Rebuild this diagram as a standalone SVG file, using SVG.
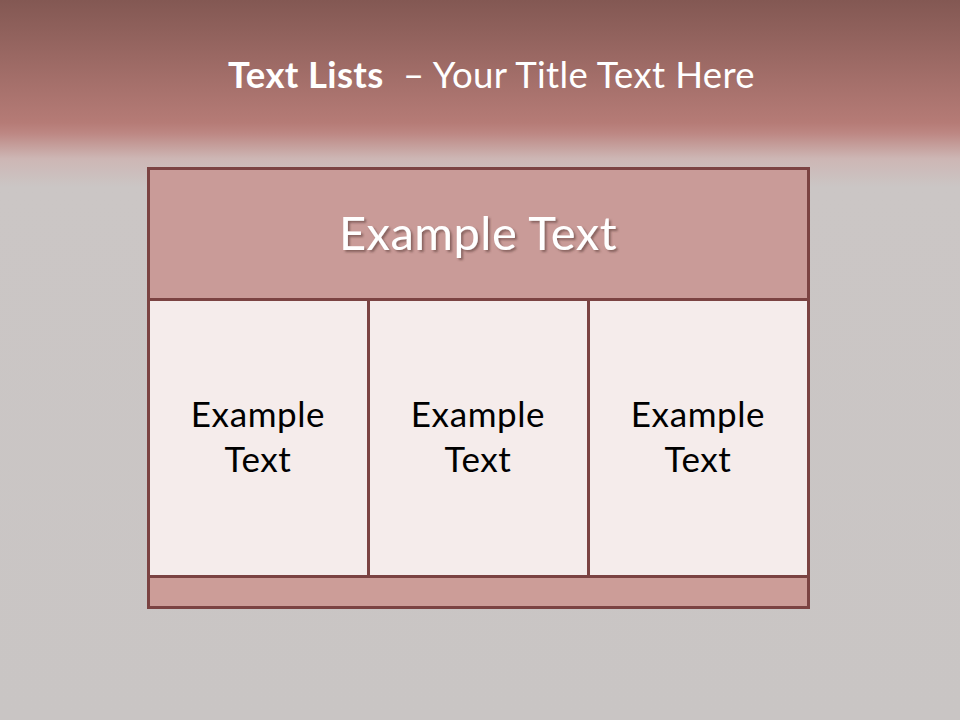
<svg xmlns="http://www.w3.org/2000/svg" width="960" height="720" viewBox="0 0 960 720">
  <defs>
    <linearGradient id="bg" x1="0" y1="0" x2="0" y2="1">
      <stop offset="0" stop-color="#835853"/>
      <stop offset="0.17" stop-color="#b57b76"/>
      <stop offset="0.185" stop-color="#bd8783"/>
      <stop offset="0.22" stop-color="#cdb6b4"/>
      <stop offset="0.26" stop-color="#cbc6c5"/>
      <stop offset="1" stop-color="#c9c5c4"/>
    </linearGradient>
    <filter id="shadow" x="-10%" y="-20%" width="130%" height="150%">
      <feDropShadow dx="2" dy="2" stdDeviation="1.2" flood-color="#5a3a38" flood-opacity="0.6"/>
    </filter>
  </defs>
  <style>
    .frame { stroke: #7b4342; stroke-width: 3; }
    .head { fill: #c99b98; }
    .cell { fill: #f5eceb; }
    .foot { fill: #cc9d98; }
    .ttl { font-family: Lato, "Open Sans", sans-serif; font-size: 36.5px; fill: #ffffff; letter-spacing: 0.35px; }
    .htxt { font-family: Lato, "Open Sans", sans-serif; font-size: 47px; fill: #ffffff; text-anchor: middle; letter-spacing: 0.5px; }
    .ctxt { font-family: Lato, "Open Sans", sans-serif; font-size: 35px; fill: #000000; text-anchor: middle; letter-spacing: 0.6px; }
  </style>
  <rect x="0" y="0" width="960" height="720" fill="url(#bg)"/>

  <text x="228" y="88" class="ttl" xml:space="preserve"><tspan font-weight="bold">Text Lists</tspan><tspan>  – Your Title Text Here</tspan></text>

  <g id="header">
    <rect x="148.5" y="168.5" width="660" height="131" class="head frame"/>
    <text x="478" y="250" class="htxt" filter="url(#shadow)">Example Text</text>
  </g>
  <g id="cell1">
    <rect x="148.5" y="299.5" width="220" height="277" class="cell frame"/>
    <text x="258" y="427" class="ctxt">Example</text>
    <text x="258" y="472" class="ctxt">Text</text>
  </g>
  <g id="cell2">
    <rect x="368.5" y="299.5" width="220" height="277" class="cell frame"/>
    <text x="478" y="427" class="ctxt">Example</text>
    <text x="478" y="472" class="ctxt">Text</text>
  </g>
  <g id="cell3">
    <rect x="588.5" y="299.5" width="220" height="277" class="cell frame"/>
    <text x="698" y="427" class="ctxt">Example</text>
    <text x="698" y="472" class="ctxt">Text</text>
  </g>
  <g id="footer">
    <rect x="148.5" y="576.5" width="660" height="31" class="foot frame"/>
  </g>
  <g id="connectors"/>
</svg>
